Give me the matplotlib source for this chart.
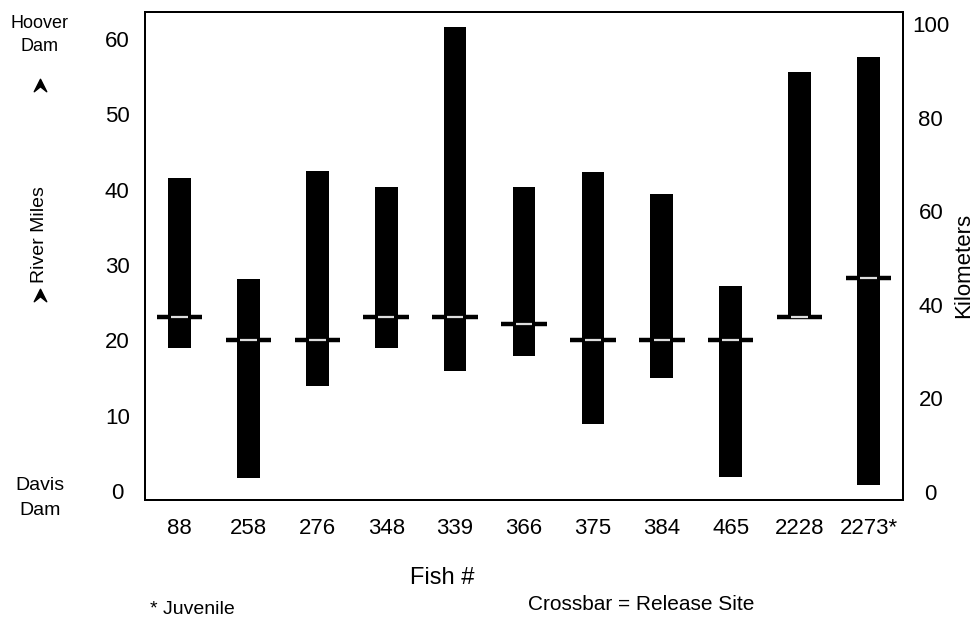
import matplotlib
matplotlib.use("Agg")
import matplotlib.pyplot as plt
from matplotlib.path import Path
import numpy as np

plt.rcParams['font.family'] = ['Liberation Sans', 'DejaVu Sans']

fish = ["88", "258", "276", "348", "339", "366", "375", "384", "465", "2228", "2273*"]
low_mi = [19.0, 1.7, 13.9, 19.0, 15.9, 17.9, 8.9, 15.0, 1.9, 23.1, 0.8]
high_mi = [41.6, 28.2, 42.5, 40.4, 61.6, 40.4, 42.4, 39.4, 27.2, 55.6, 57.6]
release_mi = [23.1, 20.1, 20.1, 23.1, 23.1, 22.2, 20.1, 20.1, 20.1, 23.1, 28.3]
km_ticks = [0, 20, 40, 60, 80, 100]
mi_ticks = [0, 10, 20, 30, 40, 50, 60]

fig = plt.figure(figsize=(9.76, 6.2), dpi=100)
ax = fig.add_axes([145/976, 1-500/620, (903-145)/976, (500-12)/620])
x = np.arange(len(fish))
heights = np.array(high_mi) - np.array(low_mi)
ax.bar(x, heights, bottom=low_mi, width=0.33, color='black', zorder=2)
ax.hlines(release_mi, x - 0.33, x + 0.33, color='black', lw=3.2, zorder=3)
ax.hlines(release_mi, x - 0.12, x + 0.12, color='#dddddd', lw=1.6, zorder=4)

ax.set_xlim(-0.5, 10.5)
ax.set_ylim(-1.2, 63.6)
ax.set_xticks(x)
ax.set_xticklabels(fish)
ax.set_yticks(mi_ticks)
ax.tick_params(axis='both', length=0, labelsize=16)
ax.tick_params(axis='y', pad=20)
ax.tick_params(axis='x', pad=13)
for lab in ax.get_yticklabels():
    lab.set_horizontalalignment('center')
for s in ax.spines.values():
    s.set_linewidth(1.4)

ax2 = ax.twinx()
ax2.set_ylim(-1.7, 102.6)
ax2.set_yticks(km_ticks)
ax2.tick_params(axis='y', length=0, labelsize=16, pad=20)
for lab in ax2.get_yticklabels():
    lab.set_horizontalalignment('center')
for s in ax2.spines.values():
    s.set_linewidth(1.4)

fig.text(964/976, 1-265/620, "Kilometers", ha='center', va='center', rotation=90, fontsize=16)

# left side annotations
fig.text(39/976, 1-35/620, "Hoover\nDam", ha='center', va='center', fontsize=13, linespacing=1.5)
fig.text(40/976, 1-498/620, "Davis\nDam", ha='center', va='center', fontsize=14, linespacing=1.55)
fig.text(40/976, 1-235/620, "River Miles", ha='center', va='center', rotation=90, fontsize=14)
arrow = Path([(-1, -1), (0, 1), (1, -1), (0, -0.2), (-1, -1)],
             [Path.MOVETO, Path.LINETO, Path.LINETO, Path.LINETO, Path.CLOSEPOLY])
for yy in (85, 295):
    fig.lines.append(plt.Line2D([40/976], [1-yy/620], marker=arrow, markersize=9,
                                color='black', transform=fig.transFigure))

fig.text(410/976, 1-578/620, "Fish #", ha='left', va='center', fontsize=17)
fig.text(150/976, 1-609/620, "* Juvenile", ha='left', va='center', fontsize=14)
fig.text(528/976, 1-605/620, "Crossbar = Release Site", ha='left', va='center', fontsize=15)

fig.savefig("out.png", dpi=100)
